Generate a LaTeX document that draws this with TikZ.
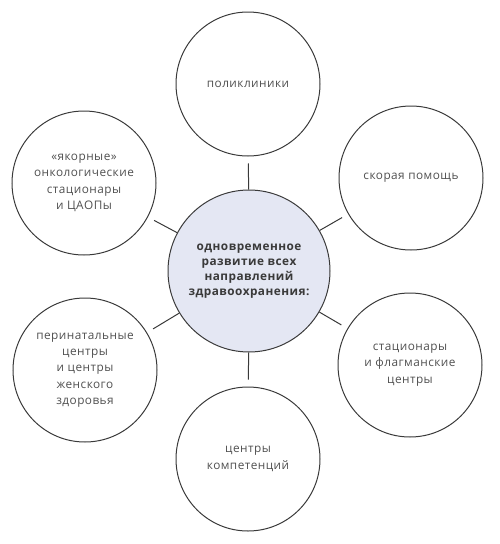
\documentclass[tikz,border=0pt]{standalone}
\usepackage{fontspec}
\setmainfont{Open Sans}[LetterSpace=4]
\usepackage{xcolor}
\usepackage{tikz}
\usetikzlibrary{positioning}

\definecolor{ringgray}{HTML}{3A3A3A}
\definecolor{textgray}{HTML}{505050}
\definecolor{hubfill}{HTML}{E4E7F3}

\tikzset{
    leafcircle/.style={circle, draw=ringgray, line width=1pt, minimum size=144pt,
        inner sep=0pt, align=center, text=textgray, font=\fontsize{11.8}{16.3}\selectfont},
    hubcircle/.style={circle, draw=ringgray, line width=1pt, fill=hubfill, minimum size=162pt,
        inner sep=0pt, align=center, text=ringgray, font=\fontsize{11.8}{15}\selectfont\bfseries},
    spoke/.style={draw=ringgray, line width=1pt, shorten >=7pt}
}

\begin{document}
\begin{tikzpicture}[x=1pt, y=1pt]
        \useasboundingbox (0,0) rectangle (500,-544);

        % Draw central circle
        \node[hubcircle] (hub) at (249,-271)
            {одновременное\\развитие всех\\направлений\\здравоохранения:};

        % Draw outer circles
        \node[leafcircle] (clinics) at (248,-84) {поликлиники};
        \node[leafcircle] (ambulance) at (411,-178) {скорая помощь};
        \node[leafcircle] (hospitals) at (410,-365) {стационары\\и флагманские\\центры};
        \node[leafcircle] (competence) at (248,-459) {центры\\компетенций};
        \node[leafcircle] (perinatal) at (85,-370) {перинатальные\\центры\\и центры\\женского\\здоровья};
        \node[leafcircle] (oncology) at (84,-183) {«якорные»\\онкологические\\стационары\\и ЦАОПы};

        % Draw spokes from the hub
        \foreach \leaf in {clinics,ambulance,hospitals,competence,perinatal,oncology}
            \draw[spoke] (hub) -- (\leaf);

    \end{tikzpicture}
\end{document}
